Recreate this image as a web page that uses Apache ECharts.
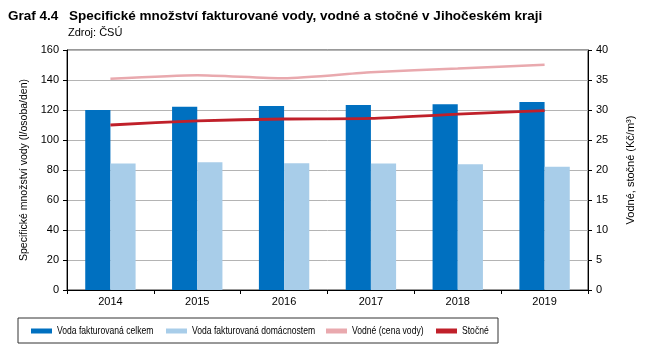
<!DOCTYPE html>
<html><head><meta charset="utf-8">
<script src="https://cdn.jsdelivr.net/npm/echarts@6/dist/echarts.min.js"></script>
<style>html,body{margin:0;padding:0;background:#fff}#c{width:649px;height:358px}</style>
</head><body><div id="c"></div>
<script>
const categories = ['2014','2015','2016','2017','2018','2019'];
const vodaCelkem = [120.0, 122.2, 122.7, 123.3, 123.8, 125.3];
const vodaDomacnosti = [84.4, 85.1, 84.5, 84.4, 83.8, 82.2];
const vodne = [35.2, 35.8, 35.3, 36.3, 36.9, 37.55];
const stocne = [27.5, 28.2, 28.5, 28.6, 29.3, 29.9];
const leftTicks = [0, 160, 20];
const rightTicks = [0, 40, 5];
const seriesNames = ['Voda fakturovaná celkem', 'Voda fakturovaná domácnostem', 'Vodné (cena vody)', 'Stočné'];
const seriesColors = ['#0070c0', '#a8cde9', '#e9a9ae', '#c0202a'];

const FONT = '"Liberation Sans", Arial, sans-serif';
const legendX = [31, 166, 326, 436];
const legendY = 331;
const legendGraphics = [];
seriesNames.forEach((n, i) => {
  legendGraphics.push({type: 'rect', shape: {x: legendX[i], y: legendY - 2.5, width: 21, height: 5}, style: {fill: seriesColors[i]}, silent: true});
  legendGraphics.push({type: 'text', x: legendX[i] + 26, y: legendY, scaleX: 0.78, originX: 0, originY: 0,
    style: {text: n, font: '11px ' + FONT, fill: '#000', verticalAlign: 'middle', textVerticalAlign: 'middle'}});
});

const chart = echarts.init(document.getElementById('c'));
chart.setOption({
  animation: false,
  textStyle: {fontFamily: FONT},
  grid: {left: 67, right: 61, top: 50, bottom: 68, show: true, borderColor: '#333', borderWidth: 1},
  graphic: [
    {type: 'text', left: 8, top: 9, style: {text: 'Graf 4.4', font: 'bold 13.5px ' + FONT, fill: '#000'}},
    {type: 'text', left: 69, top: 9, style: {text: 'Specifické množství fakturované vody, vodné a stočné v Jihočeském kraji', font: 'bold 13.5px ' + FONT, fill: '#000'}},
    {type: 'text', left: 68, top: 27, style: {text: 'Zdroj: ČSÚ', font: '11px ' + FONT, fill: '#000'}},
    {type: 'rect', shape: {x: 18, y: 318, width: 480, height: 25}, style: {fill: 'none', stroke: '#333', lineWidth: 1}}
  ].concat(legendGraphics),
  legend: {show: false, data: seriesNames},
  xAxis: {
    type: 'category', data: categories,
    axisLine: {lineStyle: {color: '#000'}},
    axisTick: {show: true, alignWithLabel: false, length: 4, lineStyle: {color: '#000'}},
    axisLabel: {color: '#000', fontSize: 11, margin: 6}
  },
  yAxis: [
    {
      type: 'value', min: leftTicks[0], max: leftTicks[1], interval: leftTicks[2],
      name: 'Specifické množství vody (l/osoba/den)', nameLocation: 'middle', nameGap: 34,
      nameTextStyle: {fontSize: 10.5, color: '#000'},
      axisLine: {show: true, lineStyle: {color: '#000'}},
      axisTick: {show: true, length: 4, lineStyle: {color: '#000'}},
      axisLabel: {color: '#000', fontSize: 11, margin: 8},
      splitLine: {lineStyle: {color: '#b4b4b4'}}
    },
    {
      type: 'value', min: rightTicks[0], max: rightTicks[1], interval: rightTicks[2], position: 'right',
      name: 'Vodné, stočné (Kč/m³)', nameLocation: 'middle', nameGap: 37, nameRotate: 90,
      nameTextStyle: {fontSize: 11, color: '#000'},
      axisLine: {show: true, lineStyle: {color: '#000'}},
      axisTick: {show: true, length: 4, lineStyle: {color: '#000'}},
      axisLabel: {color: '#000', fontSize: 11, margin: 8},
      splitLine: {show: false}
    }
  ],
  series: [
    {name: seriesNames[0], type: 'bar', data: vodaCelkem, barGap: '0%', barCategoryGap: '42%', itemStyle: {color: seriesColors[0]}},
    {name: seriesNames[1], type: 'bar', data: vodaDomacnosti, itemStyle: {color: seriesColors[1]}},
    {name: seriesNames[2], type: 'line', yAxisIndex: 1, data: vodne, smooth: 0.2, showSymbol: false, lineStyle: {color: seriesColors[2], width: 2.5}, itemStyle: {color: seriesColors[2]}},
    {name: seriesNames[3], type: 'line', yAxisIndex: 1, data: stocne, smooth: 0.2, showSymbol: false, lineStyle: {color: seriesColors[3], width: 2.8}, itemStyle: {color: seriesColors[3]}}
  ]
});
</script></body></html>
